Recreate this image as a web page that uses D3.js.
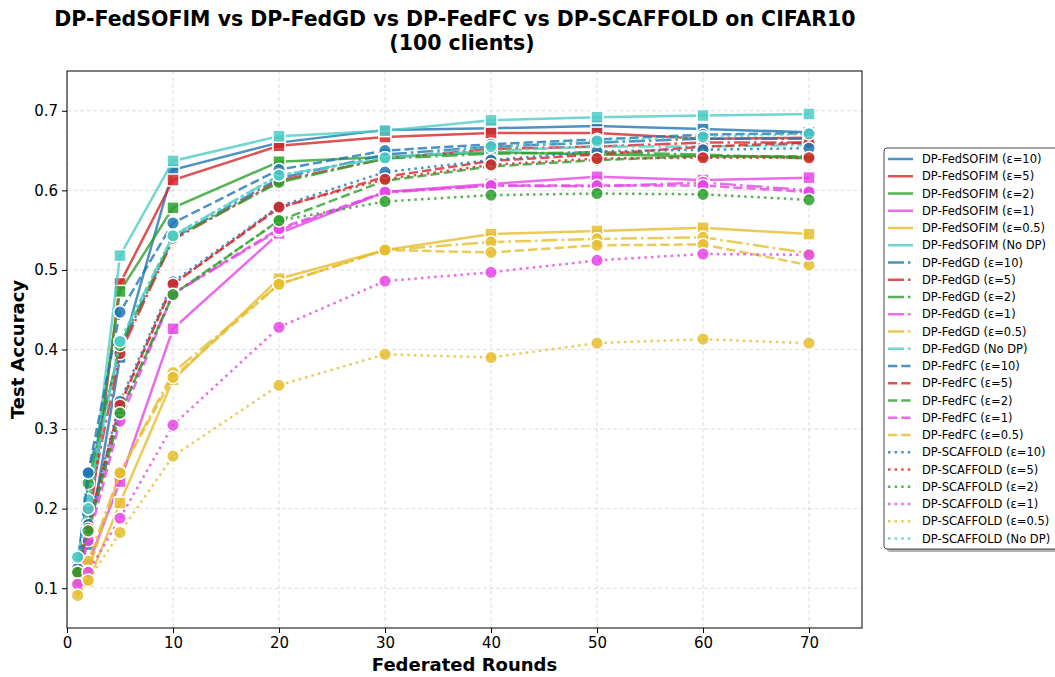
<!DOCTYPE html>
<html>
<head>
<meta charset="utf-8">
<script src="https://cdn.jsdelivr.net/npm/d3@7"></script>
<style>
  body { margin: 0; background: #fff; }
  svg { display: block; font-family: "DejaVu Sans", sans-serif; }
</style>
</head>
<body>
<div id="chart"></div>
<script>
//---data---
var rounds=[1,2,5,10,20,30,40,50,60,70]
var methods=["DP-FedSOFIM","DP-FedGD","DP-FedFC","DP-SCAFFOLD"]
var privacy=["ε=10","ε=5","ε=2","ε=1","ε=0.5","No DP"]

var sofim=[
  [0.125,0.155,0.390,0.626,0.660,0.676,0.678,0.681,0.677,0.673],
  [0.120,0.170,0.483,0.613,0.656,0.667,0.672,0.672,0.665,0.666],
  [0.120,0.200,0.473,0.578,0.636,0.642,0.648,0.645,0.643,0.642],
  [0.110,0.130,0.234,0.426,0.546,0.598,0.608,0.617,0.613,0.616],
  [0.100,0.108,0.207,0.362,0.489,0.525,0.545,0.549,0.553,0.545],
  [0.130,0.190,0.518,0.637,0.668,0.675,0.688,0.692,0.694,0.696]
]
var fedgd=[
  [0.125,0.245,0.400,0.540,0.615,0.645,0.655,0.660,0.665,0.665],
  [0.120,0.200,0.395,0.538,0.612,0.640,0.652,0.655,0.660,0.660],
  [0.120,0.232,0.405,0.540,0.610,0.640,0.646,0.648,0.645,0.640],
  [0.110,0.170,0.320,0.470,0.550,0.597,0.606,0.605,0.610,0.600],
  [0.109,0.134,0.245,0.371,0.482,0.525,0.535,0.539,0.541,0.521],
  [0.139,0.211,0.411,0.543,0.619,0.641,0.650,0.655,0.655,0.657]
]
var fedfc=[
  [0.125,0.245,0.447,0.559,0.626,0.650,0.658,0.664,0.670,0.672],
  [0.120,0.180,0.330,0.482,0.578,0.617,0.637,0.645,0.655,0.660],
  [0.120,0.172,0.320,0.469,0.562,0.612,0.630,0.638,0.643,0.643],
  [0.110,0.160,0.310,0.470,0.552,0.598,0.606,0.606,0.606,0.598],
  [0.109,0.121,0.245,0.365,0.482,0.525,0.522,0.531,0.532,0.506]
]
var scaffold=[
  [0.125,0.180,0.335,0.485,0.580,0.623,0.638,0.649,0.651,0.653],
  [0.120,0.175,0.330,0.482,0.579,0.614,0.632,0.640,0.641,0.641],
  [0.120,0.172,0.320,0.469,0.562,0.586,0.594,0.596,0.595,0.588],
  [0.105,0.120,0.188,0.305,0.428,0.486,0.497,0.512,0.520,0.519],
  [0.091,0.110,0.170,0.266,0.355,0.394,0.390,0.408,0.413,0.408],
  [0.139,0.200,0.410,0.543,0.619,0.641,0.655,0.662,0.667,0.671]
]
var xTicks=[0,10,20,30,40,50,60,70]
var yTicks=[0.1,0.2,0.3,0.4,0.5,0.6,0.7]

var colors=["#1f77b4","#d62728","#2ca02c","#e547e5","#e6bd2e","#4ecdc4"]
var dashes=[null,"16 4 2.5 4","9.25 4","2.5 4.1"] //---solid, dash-dot, dashed, dotted---

var allSeries=[]
;[sofim,fedgd,fedfc,scaffold].forEach(function(set,m){
  set.forEach(function(vals,p){
    allSeries.push({name:methods[m]+" ("+privacy[p]+")",method:m,color:colors[p],values:vals})
  })
})

var W=1055,H=677
var M={left:67,right:862,top:71,bottom:628}

var svg=d3.select("#chart").append("svg")
  .attr("width",W).attr("height",H)

var x=d3.scaleLinear().domain([0,75]).range([M.left,M.right])
var y=d3.scaleLinear().domain([0.05,0.75]).range([M.bottom,M.top])

//---grid---
var grid=svg.append("g")
grid.selectAll(".gx").data(xTicks).enter().append("line")
  .attr("x1",function(d){return x(d)}).attr("x2",function(d){return x(d)})
  .attr("y1",M.top).attr("y2",M.bottom)
  .attr("stroke","#b0b0b0").attr("stroke-opacity",0.5)
  .attr("stroke-width",0.8).attr("stroke-dasharray","4 2.5")
grid.selectAll(".gy").data(yTicks).enter().append("line")
  .attr("y1",function(d){return y(d)}).attr("y2",function(d){return y(d)})
  .attr("x1",M.left).attr("x2",M.right)
  .attr("stroke","#b0b0b0").attr("stroke-opacity",0.5)
  .attr("stroke-width",0.8).attr("stroke-dasharray","4 2.5")

//---lines + markers---
var line=d3.line().x(function(d,i){return x(rounds[i])}).y(function(d){return y(d)})
var plotG=svg.append("g")
allSeries.forEach(function(s){
  var g=plotG.append("g")
  g.append("path").attr("d",line(s.values))
    .attr("fill","none").attr("stroke",s.color)
    .attr("stroke-width",2.5).attr("stroke-opacity",0.8)
    .attr("stroke-dasharray",dashes[s.method])
  if(s.method==0){
    g.selectAll("rect").data(s.values).enter().append("rect")
      .attr("x",function(d,i){return x(rounds[i])-6}).attr("y",function(d){return y(d)-6})
      .attr("width",12).attr("height",12)
      .attr("fill",s.color).attr("fill-opacity",0.85)
      .attr("stroke","#fff").attr("stroke-width",1.5)
  }else{
    g.selectAll("circle").data(s.values).enter().append("circle")
      .attr("cx",function(d,i){return x(rounds[i])}).attr("cy",function(d){return y(d)})
      .attr("r",6.3)
      .attr("fill",s.color).attr("fill-opacity",0.85)
      .attr("stroke","#fff").attr("stroke-width",1.5)
  }
})

//---axes---
svg.append("rect").attr("x",M.left).attr("y",M.top)
  .attr("width",M.right-M.left).attr("height",M.bottom-M.top)
  .attr("fill","none").attr("stroke","#000").attr("stroke-width",1)

var xAxis=svg.append("g").attr("transform","translate(0,"+M.bottom+")")
  .call(d3.axisBottom(x).tickValues(xTicks).tickSize(5).tickPadding(4))
var yAxis=svg.append("g").attr("transform","translate("+M.left+",0)")
  .call(d3.axisLeft(y).tickValues(yTicks).tickFormat(d3.format(".1f")).tickSize(5).tickPadding(4))
;[xAxis,yAxis].forEach(function(a){
  a.select(".domain").remove()
  a.selectAll("text").attr("font-size",15).attr("fill","#000").attr("font-family","DejaVu Sans")
  a.selectAll("line").attr("stroke","#000")
})

//---titles---
svg.append("text").attr("x",455).attr("y",26)
  .attr("text-anchor","middle").attr("font-size",20.5).attr("font-weight","bold")
  .text("DP-FedSOFIM vs DP-FedGD vs DP-FedFC vs DP-SCAFFOLD on CIFAR10")
svg.append("text").attr("x",462).attr("y",50)
  .attr("text-anchor","middle").attr("font-size",20.5).attr("font-weight","bold")
  .text("(100 clients)")
svg.append("text").attr("x",(M.left+M.right)/2).attr("y",671)
  .attr("text-anchor","middle").attr("font-size",18).attr("font-weight","bold")
  .text("Federated Rounds")
svg.append("text").attr("transform","translate(24,"+((M.top+M.bottom)/2)+") rotate(-90)")
  .attr("text-anchor","middle").attr("font-size",18).attr("font-weight","bold")
  .text("Test Accuracy")

//---legend---
var LX=884,LY=148,LW=185,LH=401,LS=17.25
svg.append("rect").attr("x",LX+3).attr("y",LY+3).attr("width",LW).attr("height",LH)
  .attr("rx",3).attr("fill","#7f7f7f").attr("fill-opacity",0.6)
svg.append("rect").attr("x",LX).attr("y",LY).attr("width",LW).attr("height",LH)
  .attr("rx",3).attr("fill","#fff").attr("stroke","#333").attr("stroke-width",0.9)
var leg=svg.append("g")
allSeries.forEach(function(s,i){
  var yy=LY+11+i*LS
  leg.append("line").attr("x1",LX+4).attr("x2",LX+29).attr("y1",yy).attr("y2",yy)
    .attr("stroke",s.color).attr("stroke-width",2.5).attr("stroke-opacity",0.8)
    .attr("stroke-dasharray",dashes[s.method])
  leg.append("text").attr("x",LX+38).attr("y",yy+4).attr("font-size",11.5)
    .attr("fill","#000").text(s.name)
})
</script>
</body>
</html>
